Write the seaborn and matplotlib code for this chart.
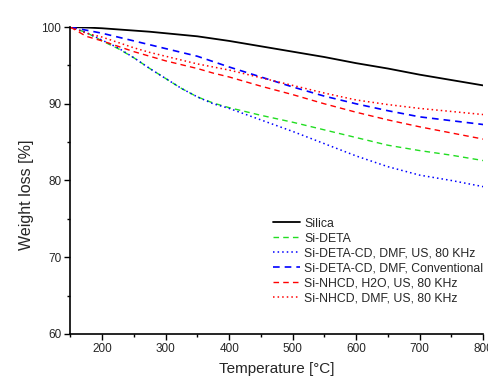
import matplotlib
matplotlib.use("Agg")
import matplotlib.pyplot as plt
import seaborn as sns
import pandas as pd
from matplotlib.ticker import MultipleLocator

temperature = [150, 175, 200, 225, 250, 275, 300, 325, 350, 375, 400, 450, 500, 550, 600, 650, 700, 750, 800]
silica = [100, 99.95, 99.85, 99.7, 99.55, 99.4, 99.2, 99.0, 98.8, 98.5, 98.2, 97.5, 96.8, 96.1, 95.3, 94.6, 93.8, 93.1, 92.4]
si_deta = [100, 99.3, 98.2, 97.2, 96.0, 94.6, 93.3, 92.0, 90.9, 90.1, 89.5, 88.5, 87.6, 86.6, 85.6, 84.6, 83.9, 83.3, 82.6]
si_deta_cd_us = [100, 99.3, 98.3, 97.3, 96.0, 94.6, 93.3, 92.0, 90.9, 90.0, 89.4, 87.9, 86.4, 84.8, 83.2, 81.8, 80.7, 80.0, 79.2]
si_deta_cd_conv = [100, 99.6, 99.2, 98.7, 98.2, 97.7, 97.2, 96.7, 96.2, 95.5, 94.8, 93.5, 92.2, 91.0, 90.0, 89.1, 88.3, 87.8, 87.3]
si_nhcd_h2o = [100, 98.8, 98.2, 97.5, 96.8, 96.2, 95.6, 95.1, 94.6, 94.0, 93.5, 92.3, 91.2, 90.0, 88.9, 87.9, 87.0, 86.2, 85.4]
si_nhcd_dmf = [100, 99.2, 98.7, 98.0, 97.3, 96.7, 96.2, 95.7, 95.2, 94.8, 94.4, 93.4, 92.4, 91.4, 90.5, 89.9, 89.4, 89.0, 88.6]

labels = ["Silica", "Si-DETA", "Si-DETA-CD, DMF, US, 80 KHz", "Si-DETA-CD, DMF, Conventional",
          "Si-NHCD, H2O, US, 80 KHz", "Si-NHCD, DMF, US, 80 KHz"]
series = [silica, si_deta, si_deta_cd_us, si_deta_cd_conv, si_nhcd_h2o, si_nhcd_dmf]
colors = ["black", "#22dd22", "#0000ff", "#0000ff", "#ff0000", "#ff0000"]
styles = ["-", (0, (4, 3)), (0, (1, 2)), (0, (4, 3)), (0, (4, 3)), (0, (1, 2))]
widths = [1.3, 1.0, 1.1, 1.2, 1.0, 1.1]

sns.set_style("white")
plt.rcParams['font.family'] = ['Liberation Sans', 'DejaVu Sans']

fig = plt.figure(figsize=(4.89, 3.82), dpi=100)
ax = fig.add_axes([0.144, 0.126, 0.844, 0.803])

for lab, vals, c, ls, lw in zip(labels, series, colors, styles, widths):
    df = pd.DataFrame({"T": temperature, "W": vals})
    sns.lineplot(data=df, x="T", y="W", ax=ax, color=c, linestyle=ls, linewidth=lw, label=lab)

ax.set_xlim(150, 800)
ax.set_ylim(60, 100)
ax.xaxis.set_major_locator(MultipleLocator(100))
ax.xaxis.set_minor_locator(MultipleLocator(50))
ax.yaxis.set_major_locator(MultipleLocator(10))
ax.yaxis.set_minor_locator(MultipleLocator(5))
ax.tick_params(axis='both', which='major', direction='out', length=4.5, width=1, labelsize=8.5,
               bottom=True, left=True, color='black', pad=2)
ax.tick_params(axis='both', which='minor', direction='out', length=2.5, width=1, bottom=True, left=True, color='black')
ax.set_xticks([200, 300, 400, 500, 600, 700, 800])
for s in ["top", "right"]:
    ax.spines[s].set_visible(False)
for s in ["left", "bottom"]:
    ax.spines[s].set_color("black")
    ax.spines[s].set_linewidth(1.2)

ax.set_xlabel("Temperature [°C]", fontsize=11, labelpad=5)
ax.set_ylabel("Weight loss [%]", fontsize=11.5)
ax.yaxis.set_label_coords(-0.088, 0.453)

leg = ax.legend(loc="lower right", bbox_to_anchor=(1.0, 0.096), frameon=False, fontsize=8.8,
                handlelength=2.2, handletextpad=0.3, labelspacing=0.24, borderaxespad=0.0,
                borderpad=0.0)

fig.savefig("out.png", dpi=100)
